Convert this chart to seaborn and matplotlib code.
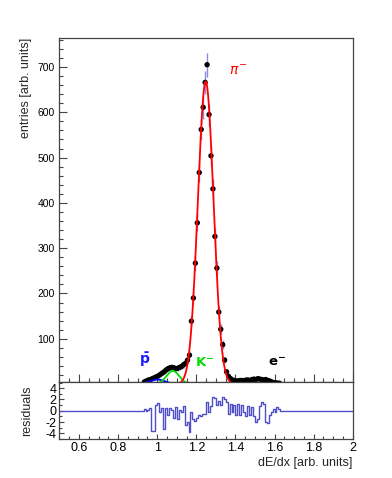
import numpy as np
import pandas as pd
import matplotlib
matplotlib.use('Agg')
import matplotlib.pyplot as plt
from matplotlib.ticker import MultipleLocator
import seaborn as sns

# dE/dx histogram, bins of width 0.01 starting at 0.93
bin_lo = 0.93
bin_width = 0.01
counts = [5, 7, 9, 10, 12, 14, 16, 18, 21, 24,
          27, 31, 34, 36, 37, 36, 34, 35, 37, 39,
          43, 46, 53, 64, 139, 190, 267, 356, 467, 562,
          611, 666, 705, 595, 504, 431, 326, 256, 159, 121,
          87, 53, 27, 17, 12, 9, 8, 7, 7, 8,
          8, 7, 9, 9, 8, 10, 11, 10, 12, 11,
          10, 9, 10, 8, 7, 5, 3, 3, 2, 2]

# residuals per bin (lower panel)
residuals = [0.3, 0.0, 0.2, 0.5, -3.6, -3.6, 1.1, 1.3, -0.3, 0.5,
             -3.3, 0.5, -0.7, 0.5, 0.2, -1.3, 0.6, -1.5, 0.2, -0.3,
             0.8, -2.5, -2.0, -3.8, -0.2, -1.5, -1.8, -1.2, -0.8, -1.0,
             -0.5, -0.6, 1.6, -0.3, 0.8, 2.4, 2.2, 1.0, 1.8, 1.1,
             2.5, 2.0, 1.5, -0.5, 1.2, -0.3, 1.1, -0.7, 1.2, -0.8,
             1.0, -0.2, -1.0, 0.8, -0.8, 0.7, -1.0, -2.0, -1.5, 0.9,
             1.5, 1.2, -2.0, -2.2, -0.8, -0.3, 0.4, -0.2, 0.6, 0.3]

# gaussian fit parameters (amplitude, mean, sigma)
fit_pion = (668, 1.248, 0.040)
fit_kaon = (29, 1.080, 0.033)
fit_pbar = (10, 1.000, 0.040)

sns.set_theme(style='ticks')
plt.rcParams['font.family'] = ['Liberation Sans', 'DejaVu Sans']
plt.rcParams['axes.unicode_minus'] = False

centers = bin_lo + bin_width * (np.arange(len(counts)) + 0.5)
df = pd.DataFrame({'x': centers, 'n': counts, 'err': np.sqrt(counts)})

xgrid = np.linspace(0.5, 2.0, 1500)


def gaus(p):
    a, m, s = p
    return a * np.exp(-0.5 * ((xgrid - m) / s) ** 2)


fig = plt.figure(figsize=(3.92, 4.78), dpi=100)
L, R = 59.5 / 392, 352.7 / 392
ax = fig.add_axes([L, 1 - 382 / 478, R - L, (382 - 38) / 478])
rax = fig.add_axes([L, 1 - 439 / 478, R - L, (439 - 382) / 478])

# main panel
ax.errorbar(df.x, df.n, yerr=df.err, fmt='none', ecolor='#8a8ae6', elinewidth=1, zorder=2)
sns.scatterplot(data=df, x='x', y='n', ax=ax, color='black', s=15, edgecolor='none', zorder=3)
sns.lineplot(x=xgrid, y=gaus(fit_pbar), ax=ax, color='#0000ff', lw=1.3, zorder=4)
sns.lineplot(x=xgrid, y=gaus(fit_kaon), ax=ax, color='#00dd00', lw=1.3, zorder=4)
sns.lineplot(x=xgrid, y=gaus(fit_pion), ax=ax, color='#ff0000', lw=1.3, zorder=4)

ax.text(1.365, 682, r'$\pi^{-}$', color='#ff0000', fontsize=10, ha='left', va='baseline')
ax.text(0.907, 44, r'$\mathbf{\bar{p}}$', color='#1a1aff', fontsize=10, ha='left', va='baseline')
ax.text(1.194, 39, r'$\mathbf{K^{-}}$', color='#00dd00', fontsize=9.5, ha='left', va='baseline')
ax.text(1.567, 39, r'$\mathbf{e^{-}}$', color='black', fontsize=9.5, ha='left', va='baseline')

ax.set_xlim(0.5, 2.0)
ax.set_ylim(4.6, 764)
ax.set_xlabel('')
ax.set_ylabel('entries [arb. units]', fontsize=9, loc='top', labelpad=4)
ax.xaxis.set_major_locator(MultipleLocator(0.2))
ax.xaxis.set_minor_locator(MultipleLocator(0.05))
ax.yaxis.set_major_locator(MultipleLocator(100))
ax.yaxis.set_minor_locator(MultipleLocator(20))
ax.tick_params(axis='x', which='both', direction='in', labelbottom=False, colors='#444444')
ax.tick_params(axis='y', which='both', direction='in', labelsize=7.5, colors='#444444', labelcolor='black')
ax.tick_params(which='major', length=6, width=0.8)
ax.tick_params(which='minor', length=3, width=0.8)
ax.set_yticks([100, 200, 300, 400, 500, 600, 700])

# residual panel
edges = np.concatenate([[0.5], bin_lo + bin_width * np.arange(len(residuals) + 1), [2.0]])
vals = np.concatenate([[0.0], residuals, [0.0], [0.0]])
sns.lineplot(x=edges, y=vals[:len(edges)], ax=rax, drawstyle='steps-post',
             color='#4f4fc8', lw=1.0, sort=False)
rax.set_xlim(0.5, 2.0)
rax.set_ylim(-5, 5.1)
rax.set_ylabel('residuals', fontsize=9, labelpad=9)
rax.set_xlabel('dE/dx [arb. units]', fontsize=9, loc='right', labelpad=2)
rax.xaxis.set_major_locator(MultipleLocator(0.2))
rax.xaxis.set_minor_locator(MultipleLocator(0.05))
rax.set_xticks([0.6, 0.8, 1.0, 1.2, 1.4, 1.6, 1.8, 2.0])
rax.set_xticklabels(['0.6', '0.8', '1', '1.2', '1.4', '1.6', '1.8', '2'])
rax.set_yticks([-4, -2, 0, 2, 4])
rax.yaxis.set_minor_locator(MultipleLocator(1))
rax.tick_params(which='both', direction='in', labelsize=9, colors='#444444', labelcolor='black')
rax.tick_params(which='major', length=3.5, width=0.8, pad=2)
rax.tick_params(which='minor', length=2, width=0.8)

for a in (ax, rax):
    for sp in a.spines.values():
        sp.set_color('#444444')
        sp.set_linewidth(0.9)

fig.savefig('out.png', dpi=100)
